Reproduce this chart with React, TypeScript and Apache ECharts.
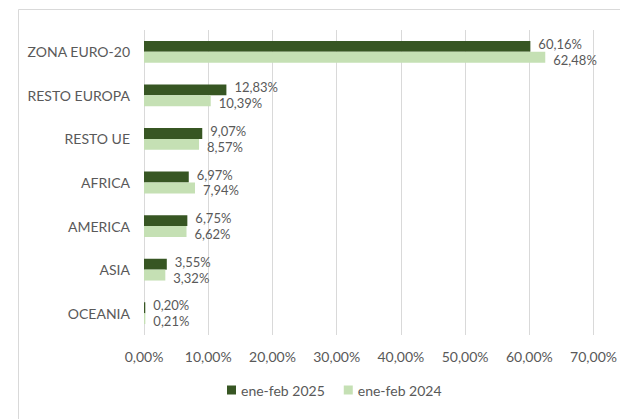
import React, { useEffect, useRef } from "react";
import * as echarts from "echarts";

const categories = ["ZONA EURO-20", "RESTO EUROPA", "RESTO UE", "AFRICA", "AMERICA", "ASIA", "OCEANIA"];
const values2025 = [60.16, 12.83, 9.07, 6.97, 6.75, 3.55, 0.2];
const values2024 = [62.48, 10.39, 8.57, 7.94, 6.62, 3.32, 0.21];
const seriesNames = ["ene-feb 2025", "ene-feb 2024"];

const FONT = "Lato, 'Open Sans', sans-serif";
const TEXT = "#595959";
const FS = 14;

const fmt = (v: number) => v.toFixed(2).replace(".", ",") + "%";

export default function App() {
  const ref = useRef<HTMLDivElement>(null);
  useEffect(() => {
    document.body.style.margin = "0";
    const chart = echarts.init(ref.current!, undefined, { renderer: "svg" });
    chart.setOption({
      animation: false,
      backgroundColor: "#ffffff",
      textStyle: { fontFamily: FONT },
      graphic: [
        {
          type: "rect",
          shape: { x: 18.5, y: 9.5, width: 700, height: 500 },
          style: { fill: "none", stroke: "#d9d9d9", lineWidth: 1 },
          silent: true,
        },
      ],
      grid: { left: 144, right: 26, top: 30, bottom: 84 },
      legend: {
        bottom: 17,
        left: 222,
        itemWidth: 9,
        itemHeight: 9,
        itemGap: 19,
        icon: "rect",
        textStyle: { color: TEXT, fontSize: FS, fontFamily: FONT },
        data: seriesNames,
      },
      xAxis: {
        type: "value",
        min: 0,
        max: 70,
        interval: 10,
        axisLine: { show: false },
        axisTick: { show: false },
        splitLine: { lineStyle: { color: "#d9d9d9", width: 1 } },
        axisLabel: {
          color: TEXT,
          fontSize: FS,
          fontFamily: FONT,
          margin: 14,
          formatter: (v: number) => fmt(v),
        },
      },
      yAxis: {
        type: "category",
        inverse: true,
        data: categories,
        axisLine: { show: false },
        axisTick: { show: false },
        axisLabel: { color: TEXT, fontSize: FS, fontFamily: FONT, margin: 14 },
      },
      series: [
        {
          name: seriesNames[0],
          type: "bar",
          data: values2025,
          barGap: "0%",
          barCategoryGap: "50%",
          itemStyle: { color: "#375623" },
          label: {
            show: true,
            position: "right",
            distance: 8,
            offset: [0, -2.5],
            color: TEXT,
            fontSize: 13,
            lineHeight: 13,
            fontFamily: FONT,
            formatter: (p: any) => fmt(p.value),
          },
        },
        {
          name: seriesNames[1],
          type: "bar",
          data: values2024,
          barGap: "0%",
          barCategoryGap: "50%",
          itemStyle: { color: "#C5E0B4" },
          label: {
            show: true,
            position: "right",
            distance: 8,
            offset: [0, 2.5],
            color: TEXT,
            fontSize: 13,
            lineHeight: 13,
            fontFamily: FONT,
            formatter: (p: any) => fmt(p.value),
          },
        },
      ],
    });
    return () => chart.dispose();
  }, []);
  return <div ref={ref} style={{ width: 620, height: 419 }} />;
}
